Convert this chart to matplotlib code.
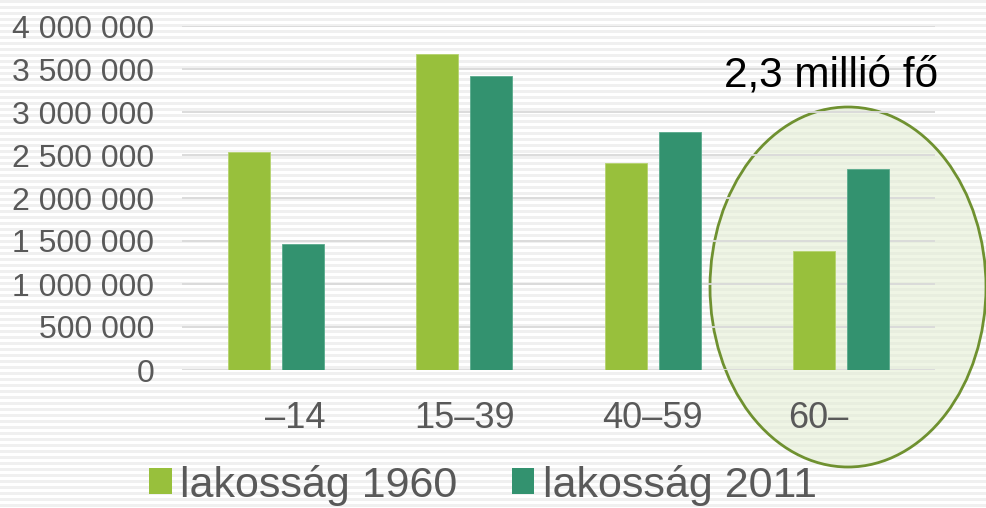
import numpy as np
import matplotlib
matplotlib.use("Agg")
import matplotlib.pyplot as plt
from matplotlib.patches import Ellipse, Patch
from matplotlib.transforms import ScaledTranslation

plt.rcParams['font.family'] = ['Liberation Sans', 'DejaVu Sans']

categories = ["–14", "15–39", "40–59", "60–"]
pop_1960 = [2540000, 3675000, 2410000, 1380000]
pop_2011 = [1460000, 3420000, 2770000, 2340000]
series_labels = ["lakosság 1960", "lakosság 2011"]
yticks = [0, 500000, 1000000, 1500000, 2000000, 2500000, 3000000, 3500000, 4000000]
ytick_labels = ["0", "500 000", "1 000 000", "1 500 000", "2 000 000",
                "2 500 000", "3 000 000", "3 500 000", "4 000 000"]
annotation = "2,3 millió fő"

c1960 = "#98c03c"
c2011 = "#33926f"
gray_text = "#595959"

W, H = 986, 508
fig = plt.figure(figsize=(W / 100, H / 100), dpi=100)

# striped background
rows = np.arange(H)
stripe = np.where((rows % 6) < 3, 0.945, 1.0)
bg = np.repeat(stripe[:, None], W, axis=1)
bg_rgb = np.dstack([bg, bg, bg])
fig.figimage(bg_rgb, xo=0, yo=0, zorder=-10, origin='upper')

left, right = 182 / W, 935 / W
bottom, top = (H - 370) / H, (H - 26) / H
ax = fig.add_axes([left, bottom, right - left, top - bottom])
ax.patch.set_visible(False)

x = np.arange(len(categories))
bw = 0.223
off = 0.1434
ax.bar(x - off, pop_1960, bw, color=c1960, zorder=3, edgecolor="#b5d36e", linewidth=0.6)
ax.bar(x + off, pop_2011, bw, color=c2011, zorder=3, edgecolor="#5aab8d", linewidth=0.6)

ax.set_xlim(-0.5, len(categories) - 0.5)
ax.set_ylim(0, 4000000)
ax.set_yticks(yticks)
ax.set_yticklabels(ytick_labels)
ax.grid(axis='y', color="#d9d9d9", linewidth=1.3, zorder=1)
ax.set_axisbelow(True)
for s in ax.spines.values():
    s.set_visible(False)
ax.tick_params(axis='y', length=0, pad=20, labelsize=23, labelcolor=gray_text)
ax.tick_params(axis='x', length=0, pad=22, labelsize=26, labelcolor=gray_text)
ax.set_xticks(x)
ax.set_xticklabels(categories)
shifts = [14, 0, 0, -16]
for lbl, dx in zip(ax.get_xticklabels(), shifts):
    lbl.set_transform(lbl.get_transform() + ScaledTranslation(dx / 72, 0, fig.dpi_scale_trans))

# ellipse highlight (pixel geometry converted into data units)
cat_px = (935 - 182) / 4
ycol = 4000000 / 344
ell = Ellipse(((848 - 182) / cat_px - 0.5, (370 - 287) * ycol),
              276 / cat_px, 360 * ycol,
              facecolor=(0.89, 0.93, 0.82, 0.55), edgecolor="#6f9130",
              linewidth=2.0, zorder=0.5, clip_on=False)
ax.add_patch(ell)

fig.text(831 / W, 1 - 86 / H, annotation, ha='center', va='baseline',
         fontsize=30.5, color='black')

handles = [Patch(facecolor=c1960), Patch(facecolor=c2011)]
leg = fig.legend(handles, series_labels, loc='center', bbox_to_anchor=(483 / W, 1 - 485 / H),
                 ncol=2, frameon=False, fontsize=31, handlelength=0.52, handleheight=0.55,
                 handletextpad=0.2, columnspacing=1.25, labelcolor=gray_text)

fig.savefig("out.png", dpi=100)
